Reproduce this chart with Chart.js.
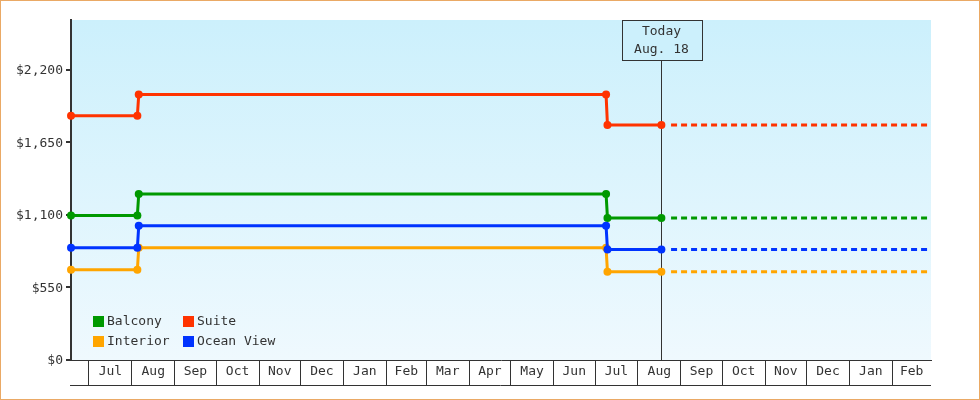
<!DOCTYPE html>
<html>
<head>
<meta charset="utf-8">
<script src="https://cdn.jsdelivr.net/npm/chart.js@4"></script>
<style>
  html, body { margin: 0; padding: 0; background: #fff; }
  #wrap { position: relative; width: 980px; height: 400px; }
  #frame { position: absolute; left: 0; top: 0; width: 980px; height: 400px; box-sizing: border-box; border: 1px solid #eaa965; pointer-events: none; }
</style>
</head>
<body>
<div id="wrap">
  <canvas id="priceChart"></canvas>
  <div id="frame"></div>
</div>
<script>
// price history (dates of each change, values per cabin type)
const dates = ['2023-06-18', '2023-08-05', '2023-08-06', '2024-07-09', '2024-07-10', '2024-08-18'];
const balcony = [1095, 1095, 1258, 1258, 1076, 1076];
const suite = [1850, 1850, 2010, 2010, 1780, 1780];
const interior = [683, 683, 850, 850, 668, 668];
const oceanView = [850, 850, 1016, 1016, 837, 837];

// forecast (dashed) from today onwards
const forecastDates = ['2024-08-25', '2025-03-01'];
const balconyForecast = [1076, 1076];
const suiteForecast = [1780, 1780];
const interiorForecast = [668, 668];
const oceanViewForecast = [837, 837];

const xStart = '2023-06-18';
const xEnd = '2025-03-01';
const todayDate = '2024-08-18';
const todayLabel = ['Today', 'Aug. 18'];

const monthStarts = ['2023-07-01', '2023-08-01', '2023-09-01', '2023-10-01', '2023-11-01', '2023-12-01',
  '2024-01-01', '2024-02-01', '2024-03-01', '2024-04-01', '2024-05-01', '2024-06-01',
  '2024-07-01', '2024-08-01', '2024-09-01', '2024-10-01', '2024-11-01', '2024-12-01',
  '2025-01-01', '2025-02-01', '2025-03-01'];
const monthLabels = ['Jul', 'Aug', 'Sep', 'Oct', 'Nov', 'Dec', 'Jan', 'Feb', 'Mar', 'Apr', 'May', 'Jun',
  'Jul', 'Aug', 'Sep', 'Oct', 'Nov', 'Dec', 'Jan', 'Feb'];
const yTicks = [0, 550, 1100, 1650, 2200];
const yMax = 2575;

const labels = ['Balcony', 'Suite', 'Interior', 'Ocean View'];
const colors = ['#009900', '#ff3300', '#ffa500', '#0033ff'];

const t = s => Date.parse(s + 'T00:00:00Z');
const INK = '#333333';
const FONT = "13px 'DejaVu Sans Mono', monospace";

// month boundaries and mid-month label positions
const boundaryValues = monthStarts.slice(0, -1).map(t);
const midLabels = new Map();
monthLabels.forEach((m, i) => {
  midLabels.set((t(monthStarts[i]) + t(monthStarts[i + 1])) / 2, m);
});

function series(xs, ys) {
  return xs.map((d, i) => ({ x: t(d), y: ys[i] }));
}

const history = [balcony, suite, interior, oceanView];
const forecast = [balconyForecast, suiteForecast, interiorForecast, oceanViewForecast];

const datasets = [];
history.forEach((vals, i) => {
  datasets.push({
    label: labels[i],
    data: series(dates, vals),
    borderColor: colors[i],
    backgroundColor: colors[i],
    borderWidth: 3,
    pointRadius: 4,
    pointHoverRadius: 4,
    pointBorderWidth: 0,
    order: 4 - i,   // later series drawn on top
    clip: false
  });
});
forecast.forEach((vals, i) => {
  datasets.push({
    label: labels[i] + ' forecast',
    data: series(forecastDates, vals),
    borderColor: colors[i],
    borderWidth: 3,
    borderDash: [6, 4],
    pointRadius: 0,
    order: 10,
    clip: false
  });
});

// plot background gradient
const bgPlugin = {
  id: 'bg',
  beforeDraw(chart) {
    const { ctx, chartArea: a } = chart;
    const g = ctx.createLinearGradient(0, a.top, 0, a.bottom);
    g.addColorStop(0, '#ccf0fc');
    g.addColorStop(1, '#eff9fe');
    ctx.save();
    ctx.fillStyle = g;
    ctx.fillRect(a.left, a.top, a.right - a.left, a.bottom - a.top);
    ctx.restore();
  }
};

// "Today" marker line and box
const todayPlugin = {
  id: 'today',
  beforeDatasetsDraw(chart) {
    const { ctx, chartArea: a } = chart;
    const x = Math.round(chart.scales.x.getPixelForValue(t(todayDate))) + 0.5;
    const boxW = 80, boxH = 40;
    ctx.save();
    ctx.strokeStyle = INK;
    ctx.lineWidth = 1;
    ctx.beginPath();
    ctx.moveTo(x, a.top + boxH);
    ctx.lineTo(x, a.bottom);
    ctx.stroke();
    const bx = Math.round(x - boxW / 2) + 0.5;
    ctx.fillStyle = '#ccf0fc';
    ctx.fillRect(bx, a.top + 0.5, boxW, boxH);
    ctx.strokeRect(bx, a.top + 0.5, boxW, boxH);
    ctx.fillStyle = INK;
    ctx.font = FONT;
    ctx.textAlign = 'center';
    ctx.textBaseline = 'middle';
    ctx.fillText(todayLabel[0], x, a.top + 12);
    ctx.fillText(todayLabel[1], x, a.top + 30);
    ctx.restore();
  }
};

// legend inside the plot (2 columns) + bottom line of the month strip
const legendPlugin = {
  id: 'innerLegend',
  afterDraw(chart) {
    const { ctx, chartArea: a } = chart;
    ctx.save();
    ctx.font = FONT;
    ctx.textAlign = 'left';
    ctx.textBaseline = 'middle';
    labels.forEach((lab, i) => {
      const col = i % 2, row = Math.floor(i / 2);
      const sx = a.left + 22 + col * 90;
      const sy = a.bottom - 44 + row * 20;
      ctx.fillStyle = colors[i];
      ctx.fillRect(sx, sy, 11, 11);
      ctx.fillStyle = INK;
      ctx.fillText(lab, sx + 14, sy + 6);
    });
    const xs = chart.scales.x;
    ctx.strokeStyle = INK;
    ctx.lineWidth = 1;
    ctx.beginPath();
    const yb = Math.round(xs.top + 25) + 0.5;
    ctx.moveTo(xs.left - 1, yb);
    ctx.lineTo(xs.right, yb);
    ctx.stroke();
    ctx.restore();
  }
};

Chart.defaults.font.family = "'DejaVu Sans Mono', monospace";
Chart.defaults.font.size = 13;
Chart.defaults.color = INK;

const ctx = document.getElementById('priceChart').getContext('2d');
const priceChart = new Chart(ctx, {
  type: 'line',
  data: { datasets: datasets },
  options: {
    responsive: true,
    maintainAspectRatio: false,
    animation: false,
    layout: { padding: { left: 0, top: 20, right: 49, bottom: 0 } },
    plugins: {
      legend: { display: false },
      tooltip: { enabled: false }
    },
    elements: { line: { tension: 0 } },
    scales: {
      x: {
        type: 'linear',
        min: t(xStart),
        max: t(xEnd),
        afterBuildTicks(scale) {
          const vals = boundaryValues.concat(Array.from(midLabels.keys())).sort((p, q) => p - q);
          scale.ticks = vals.map(v => ({ value: v }));
        },
        afterFit(scale) { scale.height = 40; },
        ticks: {
          autoSkip: false,
          maxRotation: 0,
          padding: -21,
          color: INK,
          callback: v => midLabels.get(v) || ''
        },
        grid: {
          drawOnChartArea: false,
          tickLength: 25,
          color: c => (c.tick && boundaryValues.includes(c.tick.value)) ? INK : 'rgba(0,0,0,0)',
          lineWidth: 1
        },
        border: { display: true, color: INK, width: 1 }
      },
      y: {
        min: 0,
        max: yMax,
        afterBuildTicks(scale) {
          scale.ticks = yTicks.map(v => ({ value: v }));
        },
        afterFit(scale) { scale.width = 71; },
        ticks: {
          padding: 3,
          labelOffset: 1,
          color: INK,
          callback: v => '$' + v.toLocaleString('en-US')
        },
        grid: {
          drawOnChartArea: false,
          tickLength: 5,
          color: INK,
          lineWidth: 2
        },
        border: { display: true, color: INK, width: 2 }
      }
    }
  },
  plugins: [bgPlugin, todayPlugin, legendPlugin]
});
</script>
</body>
</html>
